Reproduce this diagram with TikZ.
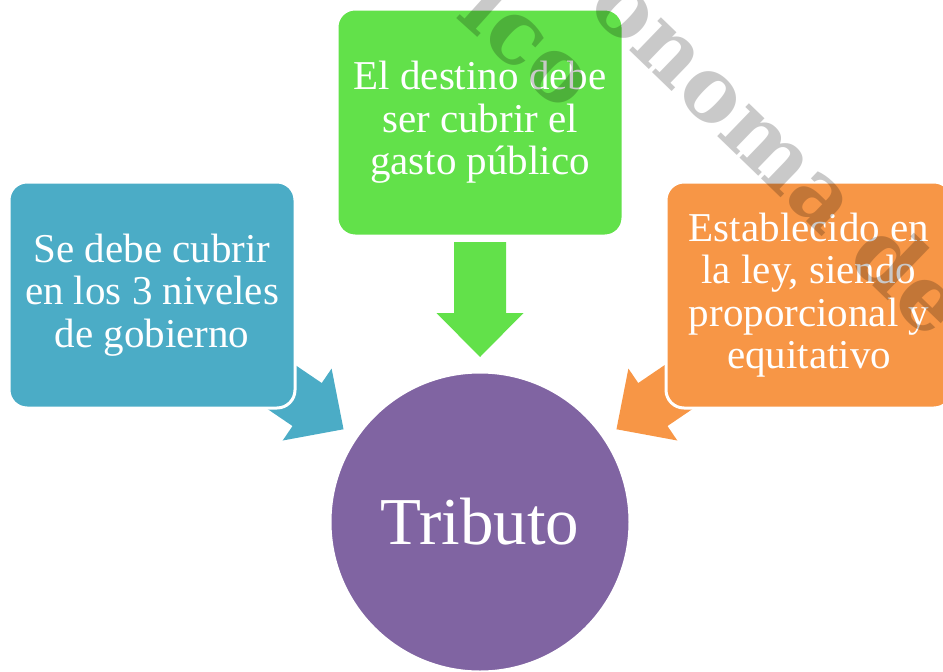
\documentclass[tikz,border=0pt]{standalone}
\usepackage{fontspec}
\setmainfont{Liberation Serif}
\newfontfamily\wmfont{DejaVu Serif}
\definecolor{boxblue}{RGB}{75,172,198}
\definecolor{boxgreen}{RGB}{98,225,74}
\definecolor{boxorange}{RGB}{247,150,70}
\definecolor{circpurple}{RGB}{128,100,162}
\tikzset{
  box/.style={rectangle, rounded corners=18pt, draw=white, line width=3pt,
    minimum width=286pt, minimum height=226pt, inner sep=0pt,
    text=white, align=center, font=\fontsize{41pt}{42.5pt}\selectfont},
  hub/.style={circle, draw=white, line width=3pt, fill=circpurple,
    minimum size=300pt, inner sep=0pt, text=white,
    font=\fontsize{67pt}{70pt}\selectfont},
  wm/.style={text=black, text opacity=0.21, inner sep=0pt,
    font=\wmfont\bfseries\fontsize{88pt}{88pt}\selectfont}
}
\begin{document}
\begin{tikzpicture}[x=1pt,y=1pt]
\useasboundingbox (0,0) rectangle (943,-672);
\clip (0,0) rectangle (943,-672);
% hub
\node[hub] (tributo) at (480,-522) {Tributo};
% block arrows pointing at the hub
\foreach \ang/\col in {90/boxgreen, 145.8/boxblue, 34.2/boxorange}{
  \begin{scope}[shift={(tributo.center)}, rotate=\ang]
    \fill[\col] (165,0) -- (209,43.5) -- (209,26) -- (280,26)
      -- (280,-26) -- (209,-26) -- (209,-43.5) -- cycle;
  \end{scope}
}
% boxes
\node[box, fill=boxblue] (blue) at (152,-295)
  {Se debe cubrir\\en los 3 niveles\\de gobierno};
\node[box, fill=boxgreen, minimum height=227pt] (green) at (480,-122.5)
  {El destino debe\\ser cubrir el\\gasto público};
\node[box, fill=boxorange] (orange) at (809,-295)
  {Establecido en\\la ley, siendo\\proporcional y\\equitativo};
% watermark
\node[wm, rotate=-44, anchor=base west] (wma) at (585,-8) {onoma de};
\node[wm, rotate=-42, anchor=base east] (wmb) at (563,-114) {ico};
\end{tikzpicture}
\end{document}
